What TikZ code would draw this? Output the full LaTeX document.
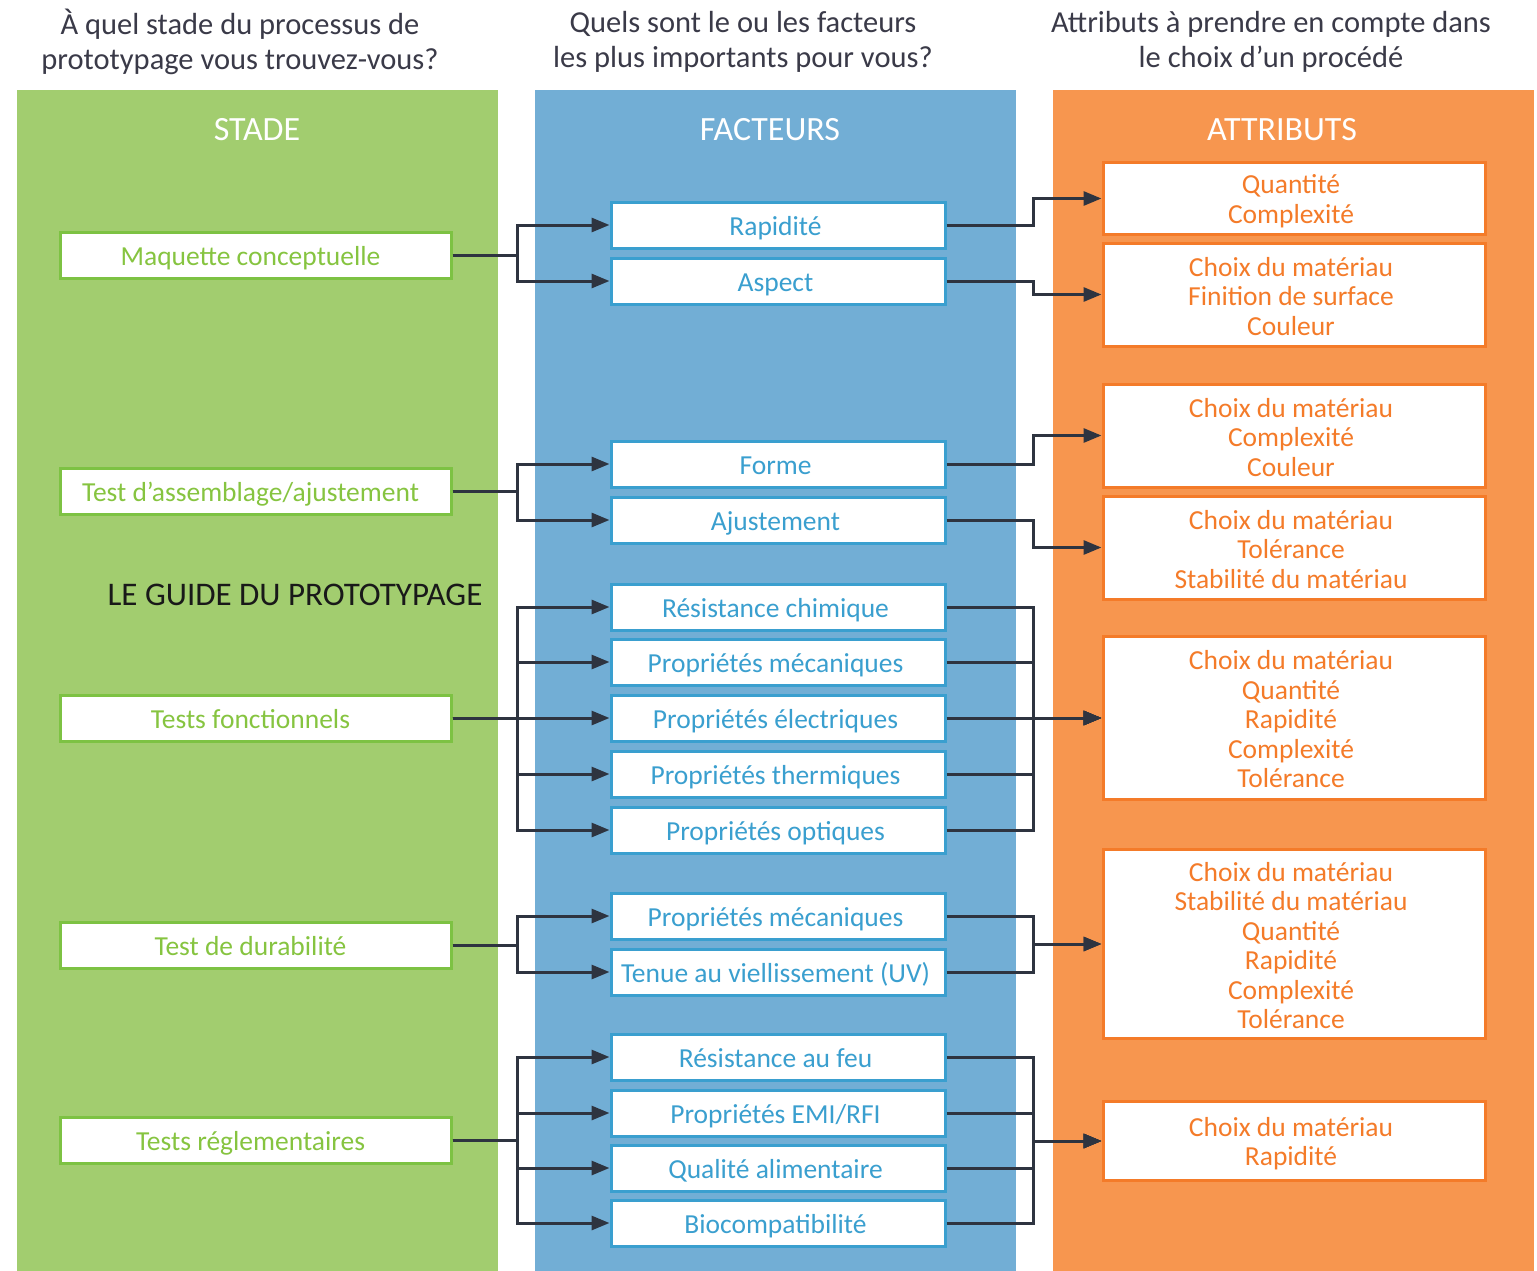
\documentclass[tikz,border=0pt]{standalone}
\usepackage{fontspec}
\setmainfont{Carlito}
\usetikzlibrary{arrows.meta}
\definecolor{gpanel}{HTML}{A2CD6F}
\definecolor{gline}{HTML}{7DC243}
\definecolor{gtext}{HTML}{86C440}
\definecolor{bpanel}{HTML}{72AED5}
\definecolor{bline}{HTML}{3A9FCF}
\definecolor{opanel}{HTML}{F7964F}
\definecolor{oline}{HTML}{F47B29}
\definecolor{conn}{HTML}{2E3440}
\definecolor{qtext}{HTML}{3A3A48}
\tikzset{
  gbox/.style={draw=gline, line width=3pt, fill=white, text=gtext, minimum width=391pt, minimum height=46pt, inner sep=0pt, text height=24pt, text depth=3pt, font=\fontsize{27.5}{30}\selectfont, execute at begin node=\hspace*{-10pt}},
  fbox/.style={draw=bline, line width=3pt, fill=white, text=bline, minimum width=334pt, minimum height=46pt, inner sep=0pt, text height=24pt, text depth=3pt, font=\fontsize{27.5}{30}\selectfont, execute at begin node=\hspace*{-5pt}},
  abox/.style={draw=oline, line width=3pt, fill=white, minimum width=382pt, inner sep=0pt},
  atext/.style={text=oline, inner sep=0pt, align=center, font=\fontsize{27.5}{29.5}\selectfont},
  hdr/.style={text=white, font=\fontsize{34}{38}\selectfont},
  quest/.style={text=qtext, align=center, font=\fontsize{30.5}{35}\selectfont},
  arr/.style={draw=conn, line width=3pt, -{Triangle[length=18pt,width=14pt]}}
}
\begin{document}
\begin{tikzpicture}[x=1pt,y=-1pt]
\useasboundingbox (0,0) rectangle (1537,1271);
% panels
\fill[gpanel] (17,90) rectangle (498,1271);
\fill[bpanel] (535,90) rectangle (1016,1271);
\fill[opanel] (1053,90) rectangle (1534,1271);
% questions
\node[quest] (q1) at (240,42) {À quel stade du processus de\\prototypage vous trouvez-vous?};
\node[quest] (q2) at (743,42) {Quels sont le ou les facteurs\\les plus importants pour vous?};
\node[quest] (q3) at (1271,42) {Attributs à prendre en compte dans\\le choix d’un procédé};
% headers
\node[hdr] (h1) at (257,130) {STADE};
\node[hdr] (h2) at (770,130) {FACTEURS};
\node[hdr] (h3) at (1282,130) {ATTRIBUTS};
\node[text=black!90, font=\fontsize{33}{36}\selectfont] (title) at (295,595) {LE GUIDE DU PROTOTYPAGE};
% branch columns
\coordinate (bl) at (517,0);
\coordinate (br) at (1033,0);
% stage boxes
\node[gbox] (g1) at (255.5,255) {Maquette conceptuelle};
\node[gbox] (g2) at (255.5,491) {Test d’assemblage/ajustement};
\node[gbox] (g3) at (255.5,718) {Tests fonctionnels};
\node[gbox] (g4) at (255.5,945) {Test de durabilité};
\node[gbox] (g5) at (255.5,1140) {Tests réglementaires};
% factor boxes
\node[fbox] (f1) at (778,225) {Rapidité};
\node[fbox] (f2) at (778,281) {Aspect};
\node[fbox] (f3) at (778,464) {Forme};
\node[fbox] (f4) at (778,520) {Ajustement};
\node[fbox] (f5) at (778,607) {Résistance chimique};
\node[fbox] (f6) at (778,662) {Propriétés mécaniques};
\node[fbox] (f7) at (778,718) {Propriétés électriques};
\node[fbox] (f8) at (778,774) {Propriétés thermiques};
\node[fbox] (f9) at (778,830) {Propriétés optiques};
\node[fbox] (f10) at (778,916) {Propriétés mécaniques};
\node[fbox] (f11) at (778,972) {Tenue au viellissement (UV)};
\node[fbox] (f12) at (778,1057) {Résistance au feu};
\node[fbox] (f13) at (778,1113) {Propriétés EMI/RFI};
\node[fbox] (f14) at (778,1168) {Qualité alimentaire};
\node[fbox] (f15) at (778,1223) {Biocompatibilité};
% attribute boxes
\node[abox, minimum height=71pt] (a1) at (1294,198.5) {};
\node[abox, minimum height=103pt] (a2) at (1294,294.5) {};
\node[abox, minimum height=103pt] (a3) at (1294,435.5) {};
\node[abox, minimum height=103pt] (a4) at (1294,547.5) {};
\node[abox, minimum height=163pt] (a5) at (1294,718) {};
\node[abox, minimum height=189pt] (a6) at (1294,944) {};
\node[abox, minimum height=79pt] (a7) at (1294,1141) {};
\node[atext] (a1t) at ([xshift=-3pt,yshift=-2.5pt]a1.center) {Quantité\\Complexité};
\node[atext] (a2t) at ([xshift=-3pt,yshift=-2pt]a2.center) {Choix du matériau\\Finition de surface\\Couleur};
\node[atext] (a3t) at ([xshift=-3pt,yshift=-2pt]a3.center) {Choix du matériau\\Complexité\\Couleur};
\node[atext] (a4t) at ([xshift=-3pt,yshift=-2pt]a4.center) {Choix du matériau\\Tolérance\\Stabilité du matériau};
\node[atext] (a5t) at ([xshift=-3pt,yshift=-1.5pt]a5.center) {Choix du matériau\\Quantité\\Rapidité\\Complexité\\Tolérance};
\node[atext] (a6t) at ([xshift=-3pt,yshift=-1.5pt]a6.center) {Choix du matériau\\Stabilité du matériau\\Quantité\\Rapidité\\Complexité\\Tolérance};
\node[atext] (a7t) at ([xshift=-3pt,yshift=-2.5pt]a7.center) {Choix du matériau\\Rapidité};
% left connectors
\foreach \g/\f in {g1/f1,g1/f2,g2/f3,g2/f4,g3/f5,g3/f6,g3/f7,g3/f8,g3/f9,g4/f10,g4/f11,g5/f12,g5/f13,g5/f14,g5/f15}
  \draw[arr] (\g.east) -- (\g.east -| bl) |- (\f.west);
% right connectors
\foreach \f/\a in {f1/a1,f2/a2,f3/a3,f4/a4,f5/a5,f6/a5,f7/a5,f8/a5,f9/a5,f10/a6,f11/a6,f12/a7,f13/a7,f14/a7,f15/a7}
  \draw[arr] (\f.east) -- (\f.east -| br) |- (\a.west);
\end{tikzpicture}
\end{document}
